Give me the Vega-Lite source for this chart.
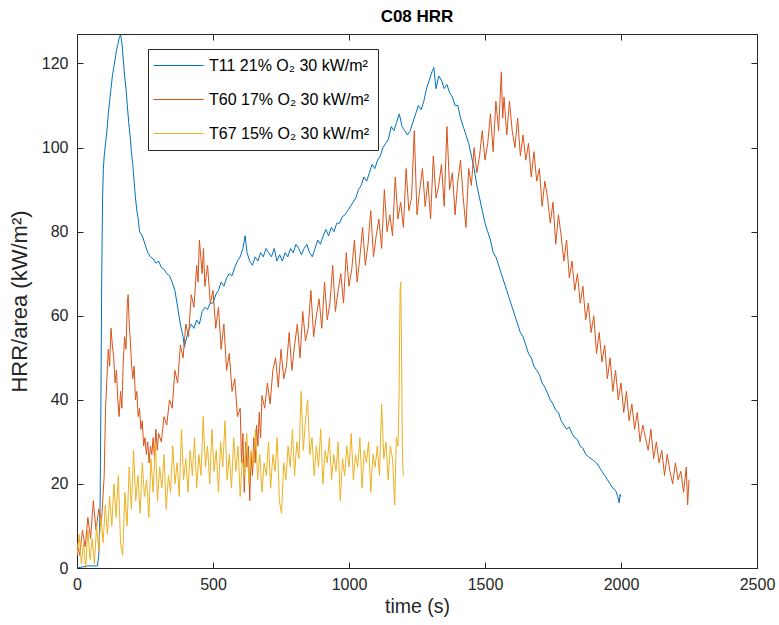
{
  "$schema": "https://vega.github.io/schema/vega-lite/v6.json",
  "width": 680,
  "height": 534,
  "autosize": {"type": "none"},
  "padding": {"left": 77, "top": 34, "right": 22, "bottom": 57},
  "background": "white",
  "title": {"text": "C08 HRR", "font": "Liberation Sans", "fontSize": 17, "fontWeight": "bold", "color": "#000000", "offset": 8},
  "config": {
    "view": {"stroke": "#262626", "strokeWidth": 1},
    "axis": {
      "grid": false,
      "domain": false,
      "tickColor": "#262626",
      "tickSize": 6,
      "offset": -6,
      "labelFlush": false,
      "labelFont": "Liberation Sans",
      "labelFontSize": 16,
      "labelColor": "#262626",
      "titleFont": "Liberation Sans",
      "titleFontSize": 19.5,
      "titleFontWeight": "normal",
      "titleColor": "#262626",
      "format": "d"
    }
  },
  "data": {
    "values": [
      {"s":"T11","t":0,"v":0},{"s":"T11","t":40,"v":0.5},{"s":"T11","t":75,"v":0.5},{"s":"T11","t":80,"v":3},{"s":"T11","t":85,"v":15},{"s":"T11","t":88,"v":40},{"s":"T11","t":91,"v":70},{"s":"T11","t":94,"v":88},{"s":"T11","t":97,"v":95},{"s":"T11","t":100,"v":98},{"s":"T11","t":105,"v":101},{"s":"T11","t":110,"v":104},{"s":"T11","t":115,"v":108},{"s":"T11","t":120,"v":111},{"s":"T11","t":125,"v":114},{"s":"T11","t":130,"v":117},{"s":"T11","t":135,"v":119},{"s":"T11","t":140,"v":121},{"s":"T11","t":145,"v":123},{"s":"T11","t":150,"v":124.5},{"s":"T11","t":155,"v":126},{"s":"T11","t":160,"v":126.8},{"s":"T11","t":165,"v":125},{"s":"T11","t":170,"v":121},{"s":"T11","t":175,"v":117},{"s":"T11","t":180,"v":114},{"s":"T11","t":185,"v":110},{"s":"T11","t":190,"v":106},{"s":"T11","t":195,"v":103},{"s":"T11","t":200,"v":99},{"s":"T11","t":205,"v":96},{"s":"T11","t":210,"v":92},{"s":"T11","t":215,"v":88},{"s":"T11","t":220,"v":85},{"s":"T11","t":225,"v":83},{"s":"T11","t":230,"v":80},{"s":"T11","t":240,"v":79},{"s":"T11","t":250,"v":77},{"s":"T11","t":260,"v":75},{"s":"T11","t":270,"v":74},{"s":"T11","t":280,"v":73.5},{"s":"T11","t":290,"v":72.5},{"s":"T11","t":300,"v":73},{"s":"T11","t":310,"v":71.5},{"s":"T11","t":320,"v":71},{"s":"T11","t":330,"v":70},{"s":"T11","t":340,"v":69.5},{"s":"T11","t":350,"v":68},{"s":"T11","t":360,"v":66},{"s":"T11","t":370,"v":62},{"s":"T11","t":380,"v":58},{"s":"T11","t":390,"v":55},{"s":"T11","t":395,"v":52.5},{"s":"T11","t":400,"v":54},{"s":"T11","t":410,"v":56.5},{"s":"T11","t":420,"v":58},{"s":"T11","t":430,"v":57},{"s":"T11","t":440,"v":59},{"s":"T11","t":450,"v":58},{"s":"T11","t":460,"v":61},{"s":"T11","t":470,"v":62},{"s":"T11","t":480,"v":61.5},{"s":"T11","t":490,"v":63},{"s":"T11","t":500,"v":63},{"s":"T11","t":510,"v":65},{"s":"T11","t":520,"v":66},{"s":"T11","t":530,"v":68},{"s":"T11","t":540,"v":67},{"s":"T11","t":550,"v":69},{"s":"T11","t":560,"v":70},{"s":"T11","t":570,"v":69.5},{"s":"T11","t":580,"v":71.5},{"s":"T11","t":590,"v":73},{"s":"T11","t":600,"v":74},{"s":"T11","t":610,"v":76},{"s":"T11","t":618,"v":79},{"s":"T11","t":625,"v":75},{"s":"T11","t":635,"v":73},{"s":"T11","t":645,"v":72},{"s":"T11","t":655,"v":74},{"s":"T11","t":665,"v":73},{"s":"T11","t":675,"v":75},{"s":"T11","t":685,"v":74},{"s":"T11","t":695,"v":76},{"s":"T11","t":705,"v":75},{"s":"T11","t":715,"v":74},{"s":"T11","t":725,"v":76},{"s":"T11","t":735,"v":73},{"s":"T11","t":745,"v":74.5},{"s":"T11","t":755,"v":73},{"s":"T11","t":765,"v":75},{"s":"T11","t":775,"v":74},{"s":"T11","t":785,"v":76},{"s":"T11","t":795,"v":75},{"s":"T11","t":805,"v":77},{"s":"T11","t":815,"v":76},{"s":"T11","t":825,"v":74.5},{"s":"T11","t":835,"v":76},{"s":"T11","t":845,"v":77},{"s":"T11","t":855,"v":75},{"s":"T11","t":865,"v":74},{"s":"T11","t":875,"v":76},{"s":"T11","t":885,"v":78},{"s":"T11","t":895,"v":77},{"s":"T11","t":905,"v":79},{"s":"T11","t":915,"v":80.5},{"s":"T11","t":925,"v":79},{"s":"T11","t":935,"v":81},{"s":"T11","t":945,"v":80},{"s":"T11","t":955,"v":82},{"s":"T11","t":965,"v":82},{"s":"T11","t":975,"v":83.5},{"s":"T11","t":985,"v":84},{"s":"T11","t":995,"v":85},{"s":"T11","t":1005,"v":86},{"s":"T11","t":1015,"v":87},{"s":"T11","t":1025,"v":88},{"s":"T11","t":1035,"v":90},{"s":"T11","t":1045,"v":91},{"s":"T11","t":1055,"v":93},{"s":"T11","t":1065,"v":92},{"s":"T11","t":1075,"v":94},{"s":"T11","t":1085,"v":96},{"s":"T11","t":1095,"v":95},{"s":"T11","t":1105,"v":97},{"s":"T11","t":1115,"v":98},{"s":"T11","t":1125,"v":100},{"s":"T11","t":1135,"v":101},{"s":"T11","t":1145,"v":102},{"s":"T11","t":1155,"v":105},{"s":"T11","t":1165,"v":104},{"s":"T11","t":1175,"v":106},{"s":"T11","t":1185,"v":108},{"s":"T11","t":1195,"v":105},{"s":"T11","t":1205,"v":104},{"s":"T11","t":1215,"v":103},{"s":"T11","t":1225,"v":104},{"s":"T11","t":1235,"v":106},{"s":"T11","t":1245,"v":108},{"s":"T11","t":1255,"v":110},{"s":"T11","t":1265,"v":109},{"s":"T11","t":1275,"v":111},{"s":"T11","t":1285,"v":114},{"s":"T11","t":1295,"v":116},{"s":"T11","t":1305,"v":118},{"s":"T11","t":1312,"v":119},{"s":"T11","t":1320,"v":114},{"s":"T11","t":1330,"v":117},{"s":"T11","t":1340,"v":116},{"s":"T11","t":1350,"v":114},{"s":"T11","t":1360,"v":115},{"s":"T11","t":1370,"v":113},{"s":"T11","t":1380,"v":112},{"s":"T11","t":1390,"v":110},{"s":"T11","t":1400,"v":110},{"s":"T11","t":1410,"v":107},{"s":"T11","t":1420,"v":105},{"s":"T11","t":1430,"v":103},{"s":"T11","t":1440,"v":101},{"s":"T11","t":1450,"v":98},{"s":"T11","t":1460,"v":95},{"s":"T11","t":1470,"v":91},{"s":"T11","t":1480,"v":88},{"s":"T11","t":1490,"v":85},{"s":"T11","t":1500,"v":82},{"s":"T11","t":1510,"v":80},{"s":"T11","t":1520,"v":78},{"s":"T11","t":1530,"v":75},{"s":"T11","t":1540,"v":74},{"s":"T11","t":1550,"v":72},{"s":"T11","t":1560,"v":70},{"s":"T11","t":1570,"v":68},{"s":"T11","t":1580,"v":66},{"s":"T11","t":1590,"v":64},{"s":"T11","t":1600,"v":62},{"s":"T11","t":1610,"v":60},{"s":"T11","t":1620,"v":58},{"s":"T11","t":1630,"v":56},{"s":"T11","t":1640,"v":55},{"s":"T11","t":1650,"v":53},{"s":"T11","t":1660,"v":51},{"s":"T11","t":1670,"v":50},{"s":"T11","t":1680,"v":48},{"s":"T11","t":1690,"v":47},{"s":"T11","t":1700,"v":46},{"s":"T11","t":1710,"v":44},{"s":"T11","t":1720,"v":43},{"s":"T11","t":1730,"v":41.5},{"s":"T11","t":1740,"v":40},{"s":"T11","t":1750,"v":39},{"s":"T11","t":1760,"v":37.5},{"s":"T11","t":1770,"v":37},{"s":"T11","t":1780,"v":35},{"s":"T11","t":1790,"v":34},{"s":"T11","t":1800,"v":33},{"s":"T11","t":1810,"v":33.5},{"s":"T11","t":1820,"v":32},{"s":"T11","t":1830,"v":31},{"s":"T11","t":1840,"v":30.5},{"s":"T11","t":1850,"v":29},{"s":"T11","t":1860,"v":28.5},{"s":"T11","t":1870,"v":27},{"s":"T11","t":1880,"v":26.5},{"s":"T11","t":1890,"v":26},{"s":"T11","t":1900,"v":25.5},{"s":"T11","t":1910,"v":25},{"s":"T11","t":1920,"v":24},{"s":"T11","t":1930,"v":23},{"s":"T11","t":1940,"v":22},{"s":"T11","t":1950,"v":21},{"s":"T11","t":1960,"v":20},{"s":"T11","t":1970,"v":19},{"s":"T11","t":1980,"v":18.5},{"s":"T11","t":1988,"v":17},{"s":"T11","t":1993,"v":15.5},{"s":"T11","t":1997,"v":17.5},{"s":"T11","t":2000,"v":17},
      {"s":"T60","t":0,"v":6},{"s":"T60","t":10,"v":3},{"s":"T60","t":20,"v":9},{"s":"T60","t":30,"v":5},{"s":"T60","t":40,"v":12},{"s":"T60","t":50,"v":7},{"s":"T60","t":60,"v":16},{"s":"T60","t":70,"v":9},{"s":"T60","t":80,"v":14},{"s":"T60","t":90,"v":11},{"s":"T60","t":100,"v":22},{"s":"T60","t":105,"v":38},{"s":"T60","t":110,"v":45},{"s":"T60","t":115,"v":52},{"s":"T60","t":120,"v":48},{"s":"T60","t":125,"v":57},{"s":"T60","t":130,"v":53},{"s":"T60","t":135,"v":50},{"s":"T60","t":140,"v":44},{"s":"T60","t":145,"v":47},{"s":"T60","t":150,"v":40},{"s":"T60","t":155,"v":36},{"s":"T60","t":160,"v":42},{"s":"T60","t":165,"v":38},{"s":"T60","t":170,"v":49},{"s":"T60","t":175,"v":55},{"s":"T60","t":180,"v":52},{"s":"T60","t":185,"v":63},{"s":"T60","t":188,"v":65},{"s":"T60","t":192,"v":58},{"s":"T60","t":196,"v":54},{"s":"T60","t":200,"v":49},{"s":"T60","t":205,"v":45},{"s":"T60","t":210,"v":48},{"s":"T60","t":215,"v":40},{"s":"T60","t":220,"v":42},{"s":"T60","t":225,"v":36},{"s":"T60","t":230,"v":38},{"s":"T60","t":235,"v":33},{"s":"T60","t":240,"v":35},{"s":"T60","t":245,"v":29},{"s":"T60","t":250,"v":31},{"s":"T60","t":255,"v":27},{"s":"T60","t":260,"v":30},{"s":"T60","t":265,"v":25},{"s":"T60","t":270,"v":29},{"s":"T60","t":275,"v":27},{"s":"T60","t":280,"v":31},{"s":"T60","t":285,"v":26},{"s":"T60","t":290,"v":33},{"s":"T60","t":295,"v":28},{"s":"T60","t":300,"v":32},{"s":"T60","t":310,"v":30},{"s":"T60","t":320,"v":36},{"s":"T60","t":330,"v":34},{"s":"T60","t":340,"v":40},{"s":"T60","t":350,"v":38},{"s":"T60","t":360,"v":47},{"s":"T60","t":370,"v":44},{"s":"T60","t":380,"v":53},{"s":"T60","t":390,"v":50},{"s":"T60","t":400,"v":58},{"s":"T60","t":410,"v":55},{"s":"T60","t":420,"v":65},{"s":"T60","t":430,"v":62},{"s":"T60","t":440,"v":72},{"s":"T60","t":445,"v":68},{"s":"T60","t":450,"v":78},{"s":"T60","t":455,"v":74},{"s":"T60","t":460,"v":70},{"s":"T60","t":465,"v":76},{"s":"T60","t":470,"v":67},{"s":"T60","t":480,"v":72},{"s":"T60","t":490,"v":63},{"s":"T60","t":500,"v":66},{"s":"T60","t":510,"v":57},{"s":"T60","t":520,"v":62},{"s":"T60","t":530,"v":52},{"s":"T60","t":540,"v":58},{"s":"T60","t":550,"v":47},{"s":"T60","t":560,"v":51},{"s":"T60","t":570,"v":42},{"s":"T60","t":580,"v":45},{"s":"T60","t":590,"v":36},{"s":"T60","t":600,"v":38},{"s":"T60","t":605,"v":25},{"s":"T60","t":610,"v":32},{"s":"T60","t":615,"v":18},{"s":"T60","t":620,"v":30},{"s":"T60","t":625,"v":24},{"s":"T60","t":630,"v":29},{"s":"T60","t":635,"v":16},{"s":"T60","t":640,"v":27},{"s":"T60","t":645,"v":22},{"s":"T60","t":650,"v":31},{"s":"T60","t":655,"v":25},{"s":"T60","t":660,"v":34},{"s":"T60","t":665,"v":29},{"s":"T60","t":670,"v":37},{"s":"T60","t":675,"v":31},{"s":"T60","t":680,"v":41},{"s":"T60","t":690,"v":38},{"s":"T60","t":700,"v":44},{"s":"T60","t":710,"v":39},{"s":"T60","t":720,"v":47},{"s":"T60","t":730,"v":50},{"s":"T60","t":740,"v":43},{"s":"T60","t":750,"v":52},{"s":"T60","t":760,"v":45},{"s":"T60","t":770,"v":48},{"s":"T60","t":780,"v":56},{"s":"T60","t":790,"v":47},{"s":"T60","t":800,"v":53},{"s":"T60","t":810,"v":58},{"s":"T60","t":820,"v":50},{"s":"T60","t":830,"v":61},{"s":"T60","t":840,"v":54},{"s":"T60","t":850,"v":57},{"s":"T60","t":860,"v":66},{"s":"T60","t":870,"v":55},{"s":"T60","t":880,"v":60},{"s":"T60","t":890,"v":64},{"s":"T60","t":900,"v":57},{"s":"T60","t":910,"v":68},{"s":"T60","t":920,"v":59},{"s":"T60","t":930,"v":63},{"s":"T60","t":940,"v":72},{"s":"T60","t":950,"v":61},{"s":"T60","t":960,"v":66},{"s":"T60","t":970,"v":70},{"s":"T60","t":980,"v":63},{"s":"T60","t":990,"v":75},{"s":"T60","t":1000,"v":67},{"s":"T60","t":1010,"v":71},{"s":"T60","t":1020,"v":78},{"s":"T60","t":1030,"v":68},{"s":"T60","t":1040,"v":74},{"s":"T60","t":1050,"v":81},{"s":"T60","t":1060,"v":72},{"s":"T60","t":1070,"v":77},{"s":"T60","t":1080,"v":85},{"s":"T60","t":1090,"v":74},{"s":"T60","t":1100,"v":79},{"s":"T60","t":1110,"v":83},{"s":"T60","t":1120,"v":76},{"s":"T60","t":1130,"v":90},{"s":"T60","t":1140,"v":80},{"s":"T60","t":1150,"v":84},{"s":"T60","t":1160,"v":79},{"s":"T60","t":1170,"v":93},{"s":"T60","t":1180,"v":83},{"s":"T60","t":1190,"v":87},{"s":"T60","t":1200,"v":81},{"s":"T60","t":1210,"v":95},{"s":"T60","t":1220,"v":85},{"s":"T60","t":1230,"v":88},{"s":"T60","t":1240,"v":104},{"s":"T60","t":1250,"v":84},{"s":"T60","t":1260,"v":90},{"s":"T60","t":1270,"v":95},{"s":"T60","t":1280,"v":86},{"s":"T60","t":1290,"v":92},{"s":"T60","t":1300,"v":83},{"s":"T60","t":1310,"v":98},{"s":"T60","t":1320,"v":88},{"s":"T60","t":1330,"v":91},{"s":"T60","t":1340,"v":96},{"s":"T60","t":1350,"v":86},{"s":"T60","t":1360,"v":105},{"s":"T60","t":1370,"v":90},{"s":"T60","t":1380,"v":94},{"s":"T60","t":1390,"v":84},{"s":"T60","t":1400,"v":92},{"s":"T60","t":1410,"v":97},{"s":"T60","t":1420,"v":88},{"s":"T60","t":1430,"v":81},{"s":"T60","t":1440,"v":95},{"s":"T60","t":1450,"v":91},{"s":"T60","t":1460,"v":100},{"s":"T60","t":1470,"v":94},{"s":"T60","t":1480,"v":98},{"s":"T60","t":1490,"v":104},{"s":"T60","t":1500,"v":97},{"s":"T60","t":1510,"v":101},{"s":"T60","t":1520,"v":108},{"s":"T60","t":1530,"v":99},{"s":"T60","t":1540,"v":111},{"s":"T60","t":1550,"v":104},{"s":"T60","t":1560,"v":118},{"s":"T60","t":1565,"v":107},{"s":"T60","t":1570,"v":112},{"s":"T60","t":1580,"v":103},{"s":"T60","t":1590,"v":111},{"s":"T60","t":1600,"v":104},{"s":"T60","t":1610,"v":100},{"s":"T60","t":1620,"v":107},{"s":"T60","t":1630,"v":98},{"s":"T60","t":1640,"v":103},{"s":"T60","t":1650,"v":97},{"s":"T60","t":1660,"v":101},{"s":"T60","t":1670,"v":93},{"s":"T60","t":1680,"v":99},{"s":"T60","t":1690,"v":92},{"s":"T60","t":1700,"v":95},{"s":"T60","t":1710,"v":86},{"s":"T60","t":1720,"v":92},{"s":"T60","t":1730,"v":88},{"s":"T60","t":1740,"v":82},{"s":"T60","t":1750,"v":87},{"s":"T60","t":1760,"v":77},{"s":"T60","t":1770,"v":84},{"s":"T60","t":1780,"v":79},{"s":"T60","t":1790,"v":73},{"s":"T60","t":1800,"v":78},{"s":"T60","t":1810,"v":69},{"s":"T60","t":1820,"v":73},{"s":"T60","t":1830,"v":66},{"s":"T60","t":1840,"v":70},{"s":"T60","t":1850,"v":63},{"s":"T60","t":1860,"v":67},{"s":"T60","t":1870,"v":59},{"s":"T60","t":1880,"v":63},{"s":"T60","t":1890,"v":56},{"s":"T60","t":1900,"v":60},{"s":"T60","t":1910,"v":51},{"s":"T60","t":1920,"v":56},{"s":"T60","t":1930,"v":49},{"s":"T60","t":1940,"v":53},{"s":"T60","t":1950,"v":45},{"s":"T60","t":1960,"v":50},{"s":"T60","t":1970,"v":42},{"s":"T60","t":1980,"v":47},{"s":"T60","t":1990,"v":40},{"s":"T60","t":2000,"v":44},{"s":"T60","t":2010,"v":37},{"s":"T60","t":2020,"v":42},{"s":"T60","t":2030,"v":35},{"s":"T60","t":2040,"v":39},{"s":"T60","t":2050,"v":33},{"s":"T60","t":2060,"v":37},{"s":"T60","t":2070,"v":30},{"s":"T60","t":2080,"v":34},{"s":"T60","t":2090,"v":31},{"s":"T60","t":2100,"v":28},{"s":"T60","t":2110,"v":33},{"s":"T60","t":2120,"v":26},{"s":"T60","t":2130,"v":30},{"s":"T60","t":2140,"v":25},{"s":"T60","t":2150,"v":28},{"s":"T60","t":2160,"v":22},{"s":"T60","t":2170,"v":27},{"s":"T60","t":2180,"v":23},{"s":"T60","t":2190,"v":20},{"s":"T60","t":2200,"v":25},{"s":"T60","t":2210,"v":21},{"s":"T60","t":2220,"v":23},{"s":"T60","t":2230,"v":18},{"s":"T60","t":2240,"v":24},{"s":"T60","t":2245,"v":15},{"s":"T60","t":2250,"v":21},
      {"s":"T67","t":0,"v":3},{"s":"T67","t":8,"v":8},{"s":"T67","t":16,"v":1},{"s":"T67","t":24,"v":6},{"s":"T67","t":32,"v":0},{"s":"T67","t":40,"v":9},{"s":"T67","t":48,"v":2},{"s":"T67","t":56,"v":7},{"s":"T67","t":64,"v":1},{"s":"T67","t":72,"v":10},{"s":"T67","t":80,"v":4},{"s":"T67","t":88,"v":12},{"s":"T67","t":96,"v":6},{"s":"T67","t":104,"v":15},{"s":"T67","t":112,"v":8},{"s":"T67","t":120,"v":17},{"s":"T67","t":128,"v":10},{"s":"T67","t":136,"v":20},{"s":"T67","t":144,"v":12},{"s":"T67","t":152,"v":22},{"s":"T67","t":160,"v":6},{"s":"T67","t":168,"v":3},{"s":"T67","t":176,"v":18},{"s":"T67","t":184,"v":10},{"s":"T67","t":192,"v":24},{"s":"T67","t":200,"v":14},{"s":"T67","t":208,"v":28},{"s":"T67","t":216,"v":16},{"s":"T67","t":224,"v":22},{"s":"T67","t":232,"v":13},{"s":"T67","t":240,"v":25},{"s":"T67","t":248,"v":17},{"s":"T67","t":256,"v":21},{"s":"T67","t":264,"v":12},{"s":"T67","t":272,"v":26},{"s":"T67","t":280,"v":18},{"s":"T67","t":288,"v":30},{"s":"T67","t":296,"v":16},{"s":"T67","t":304,"v":24},{"s":"T67","t":312,"v":19},{"s":"T67","t":320,"v":27},{"s":"T67","t":328,"v":14},{"s":"T67","t":336,"v":22},{"s":"T67","t":344,"v":18},{"s":"T67","t":352,"v":29},{"s":"T67","t":360,"v":20},{"s":"T67","t":368,"v":25},{"s":"T67","t":376,"v":17},{"s":"T67","t":384,"v":33},{"s":"T67","t":392,"v":21},{"s":"T67","t":400,"v":26},{"s":"T67","t":408,"v":18},{"s":"T67","t":416,"v":28},{"s":"T67","t":424,"v":22},{"s":"T67","t":432,"v":31},{"s":"T67","t":440,"v":19},{"s":"T67","t":448,"v":27},{"s":"T67","t":456,"v":22},{"s":"T67","t":464,"v":36},{"s":"T67","t":472,"v":24},{"s":"T67","t":480,"v":29},{"s":"T67","t":488,"v":20},{"s":"T67","t":496,"v":33},{"s":"T67","t":504,"v":23},{"s":"T67","t":512,"v":28},{"s":"T67","t":520,"v":18},{"s":"T67","t":528,"v":30},{"s":"T67","t":536,"v":24},{"s":"T67","t":544,"v":35},{"s":"T67","t":552,"v":21},{"s":"T67","t":560,"v":27},{"s":"T67","t":568,"v":19},{"s":"T67","t":576,"v":31},{"s":"T67","t":584,"v":23},{"s":"T67","t":592,"v":29},{"s":"T67","t":600,"v":17},{"s":"T67","t":608,"v":26},{"s":"T67","t":616,"v":22},{"s":"T67","t":624,"v":32},{"s":"T67","t":632,"v":20},{"s":"T67","t":640,"v":28},{"s":"T67","t":648,"v":24},{"s":"T67","t":656,"v":33},{"s":"T67","t":664,"v":21},{"s":"T67","t":672,"v":27},{"s":"T67","t":680,"v":18},{"s":"T67","t":688,"v":25},{"s":"T67","t":696,"v":22},{"s":"T67","t":704,"v":30},{"s":"T67","t":712,"v":19},{"s":"T67","t":720,"v":27},{"s":"T67","t":728,"v":23},{"s":"T67","t":736,"v":31},{"s":"T67","t":744,"v":16},{"s":"T67","t":752,"v":13},{"s":"T67","t":760,"v":25},{"s":"T67","t":768,"v":21},{"s":"T67","t":776,"v":29},{"s":"T67","t":784,"v":24},{"s":"T67","t":792,"v":33},{"s":"T67","t":800,"v":22},{"s":"T67","t":808,"v":30},{"s":"T67","t":816,"v":26},{"s":"T67","t":824,"v":42},{"s":"T67","t":832,"v":28},{"s":"T67","t":840,"v":35},{"s":"T67","t":848,"v":40},{"s":"T67","t":856,"v":27},{"s":"T67","t":864,"v":31},{"s":"T67","t":872,"v":22},{"s":"T67","t":880,"v":29},{"s":"T67","t":888,"v":24},{"s":"T67","t":896,"v":33},{"s":"T67","t":904,"v":20},{"s":"T67","t":912,"v":28},{"s":"T67","t":920,"v":25},{"s":"T67","t":928,"v":31},{"s":"T67","t":936,"v":21},{"s":"T67","t":944,"v":27},{"s":"T67","t":952,"v":23},{"s":"T67","t":960,"v":30},{"s":"T67","t":968,"v":16},{"s":"T67","t":976,"v":26},{"s":"T67","t":984,"v":22},{"s":"T67","t":992,"v":29},{"s":"T67","t":1000,"v":24},{"s":"T67","t":1008,"v":32},{"s":"T67","t":1016,"v":21},{"s":"T67","t":1024,"v":27},{"s":"T67","t":1032,"v":24},{"s":"T67","t":1040,"v":31},{"s":"T67","t":1048,"v":19},{"s":"T67","t":1056,"v":28},{"s":"T67","t":1064,"v":25},{"s":"T67","t":1072,"v":30},{"s":"T67","t":1080,"v":18},{"s":"T67","t":1088,"v":27},{"s":"T67","t":1096,"v":24},{"s":"T67","t":1104,"v":29},{"s":"T67","t":1112,"v":22},{"s":"T67","t":1120,"v":39},{"s":"T67","t":1128,"v":26},{"s":"T67","t":1136,"v":30},{"s":"T67","t":1144,"v":21},{"s":"T67","t":1152,"v":29},{"s":"T67","t":1160,"v":26},{"s":"T67","t":1168,"v":15},{"s":"T67","t":1174,"v":31},{"s":"T67","t":1180,"v":29},{"s":"T67","t":1184,"v":40},{"s":"T67","t":1186,"v":55},{"s":"T67","t":1188,"v":66},{"s":"T67","t":1190,"v":68},{"s":"T67","t":1192,"v":60},{"s":"T67","t":1194,"v":45},{"s":"T67","t":1196,"v":30},{"s":"T67","t":1198,"v":24},{"s":"T67","t":1200,"v":22}
    ]
  },
  "layer": [
    {
      "mark": {"type": "line", "strokeWidth": 1, "clip": true},
      "encoding": {
        "x": {
          "field": "t", "type": "quantitative",
          "scale": {"domain": [0, 2500], "nice": false},
          "axis": {"orient": "bottom", "values": [0, 500, 1000, 1500, 2000, 2500], "title": "time (s)", "labelPadding": 8, "titlePadding": 5}
        },
        "y": {
          "field": "v", "type": "quantitative",
          "scale": {"domain": [0, 127], "nice": false, "zero": false},
          "axis": {"orient": "left", "values": [0, 20, 40, 60, 80, 100, 120], "title": "HRR/area (kW/m²)", "titleFontSize": 22, "labelPadding": 9, "titlePadding": 10}
        },
        "color": {
          "field": "s", "type": "nominal",
          "scale": {"domain": ["T11", "T60", "T67"], "range": ["#0072BD", "#D95319", "#EDB120"]},
          "legend": {
            "title": null,
            "orient": "none",
            "legendX": 71,
            "legendY": 15,
            "strokeColor": "#262626",
            "fillColor": "white",
            "padding": 8,
            "symbolType": "M-1.375,0H4.875",
            "symbolSize": 256,
            "symbolStrokeWidth": 1,
            "labelFont": "Liberation Sans",
            "labelFontSize": 16,
            "labelColor": "#000000",
            "labelOffset": 36,
            "labelLimit": 0,
            "rowPadding": 17,
            "labelExpr": "datum.label == 'T11' ? 'T11 21% O₂ 30 kW/m²' : datum.label == 'T60' ? 'T60 17% O₂ 30 kW/m²' : 'T67 15% O₂ 30 kW/m²'"
          }
        }
      }
    },
    {
      "mark": {"type": "line", "opacity": 0},
      "encoding": {
        "x": {"field": "t", "type": "quantitative", "axis": {"orient": "top", "values": [0, 500, 1000, 1500, 2000, 2500], "labels": false, "title": null}},
        "y": {"field": "v", "type": "quantitative", "axis": {"orient": "right", "values": [0, 20, 40, 60, 80, 100, 120], "labels": false, "title": null}},
        "detail": {"field": "s"}
      }
    }
  ],
  "resolve": {"axis": {"x": "independent", "y": "independent"}}
}
